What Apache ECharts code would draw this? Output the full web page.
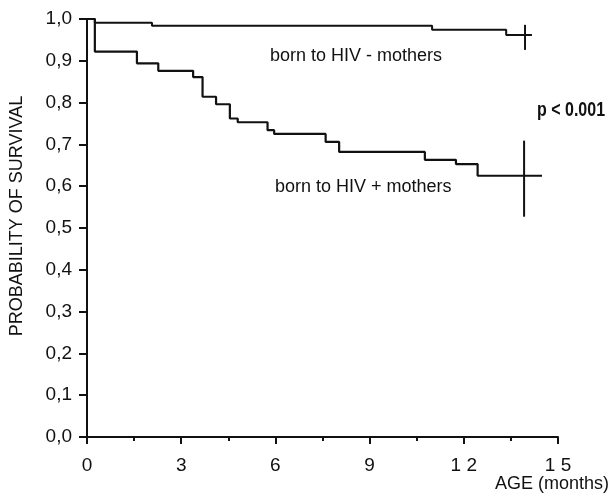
<!DOCTYPE html>
<html>
<head>
<meta charset="utf-8">
<script src="https://cdn.jsdelivr.net/npm/echarts@6/dist/echarts.min.js"></script>
<style>
html,body{margin:0;padding:0;background:#fff;}
#chart{width:611px;height:496px;}
</style>
</head>
<body>
<div id="chart"></div>
<script>
// Kaplan-Meier data (months, survival probability)
const negTimes = [0, 0.25, 2.07, 10.99, 13.35, 14.17];
const negSurv  = [1.0, 0.991, 0.984, 0.974, 0.962, 0.962];
const posTimes = [0, 0.25, 1.59, 2.27, 3.38, 3.68, 4.11, 4.55, 4.80, 5.75, 5.96, 7.60, 8.03, 10.76, 11.75, 12.44, 14.49];
const posSurv  = [1.0, 0.922, 0.894, 0.876, 0.861, 0.814, 0.796, 0.762, 0.753, 0.734, 0.725, 0.706, 0.682, 0.663, 0.653, 0.625, 0.625];
// end-of-follow-up cross bars
const negCrossT = 13.95;
const negCrossRange = [0.926, 0.986];
const posCrossT = 13.92;
const posCrossRange = [0.527, 0.709];
// tick labels
const xTicks = [0, 3, 6, 9, 12, 15];
const xTickLabels = ['0', '3', '6', '9', '1 2', '1 5'];
const yTicks = [0, 0.1, 0.2, 0.3, 0.4, 0.5, 0.6, 0.7, 0.8, 0.9, 1.0];
const yTickLabels = ['0,0', '0,1', '0,2', '0,3', '0,4', '0,5', '0,6', '0,7', '0,8', '0,9', '1,0'];

const zip = (a, b) => a.map((v, i) => [v, b[i]]);
const FONT = '"Liberation Sans", Arial, Helvetica, sans-serif';
const ink = '#111';

const chart = echarts.init(document.getElementById('chart'), null, {renderer: 'canvas'});
chart.setOption({
  animation: false,
  backgroundColor: '#fff',
  grid: {left: 87, right: 53, top: 19, bottom: 59, containLabel: false},
  xAxis: {
    type: 'value', min: 0, max: 15, interval: 3,
    axisLine: {show: true, onZero: false, lineStyle: {color: ink, width: 2}},
    axisTick: {show: true, inside: false, length: 7, lineStyle: {color: ink, width: 2}},
    minorTick: {show: true, splitNumber: 2, length: 4, lineStyle: {color: ink, width: 2}},
    splitLine: {show: false},
    axisLabel: {
      margin: 19, color: ink, fontFamily: FONT, fontSize: 19,
      formatter: v => { const i = xTicks.indexOf(v); return i >= 0 ? xTickLabels[i] : ''; }
    }
  },
  yAxis: {
    type: 'value', min: 0, max: 1, interval: 0.1,
    axisLine: {show: true, onZero: false, lineStyle: {color: ink, width: 2}},
    axisTick: {show: true, inside: false, length: 8, lineStyle: {color: ink, width: 2}},
    splitLine: {show: false},
    axisLabel: {
      margin: 15, color: ink, fontFamily: FONT, fontSize: 19,
      formatter: v => { const i = yTicks.findIndex(t => Math.abs(t - v) < 1e-6); return i >= 0 ? yTickLabels[i] : ''; }
    }
  },
  series: [
    {type: 'line', step: 'end', data: zip(negTimes, negSurv), showSymbol: false, symbol: 'none',
     lineStyle: {color: ink, width: 2}, z: 3},
    {type: 'line', step: 'end', data: zip(posTimes, posSurv), showSymbol: false, symbol: 'none',
     lineStyle: {color: ink, width: 2.2}, z: 3},
    {type: 'line', data: negCrossRange.map(v => [negCrossT, v]), showSymbol: false, symbol: 'none',
     lineStyle: {color: ink, width: 2}},
    {type: 'line', data: posCrossRange.map(v => [posCrossT, v]), showSymbol: false, symbol: 'none',
     lineStyle: {color: ink, width: 2}}
  ],
  graphic: [
    {type: 'text', x: 17, y: 216, rotation: Math.PI / 2,
     style: {text: 'PROBABILITY OF SURVIVAL', fill: ink, font: '18px ' + FONT, align: 'center', verticalAlign: 'middle'}},
    {type: 'text', x: 609, y: 484,
     style: {text: 'AGE (months)', fill: ink, font: '18px ' + FONT, align: 'right', verticalAlign: 'middle'}},
    {type: 'text', x: 270, y: 56,
     style: {text: 'born to HIV - mothers', fill: ink, font: '18px ' + FONT, align: 'left', verticalAlign: 'middle'}},
    {type: 'text', x: 275, y: 187,
     style: {text: 'born to HIV + mothers', fill: ink, font: '18px ' + FONT, align: 'left', verticalAlign: 'middle'}},
    {type: 'text', x: 537, y: 110, scaleX: 0.8,
     style: {text: 'p < 0.001', fill: ink, font: 'bold 20px ' + FONT, align: 'left', verticalAlign: 'middle'}}
  ]
});
</script>
</body>
</html>
